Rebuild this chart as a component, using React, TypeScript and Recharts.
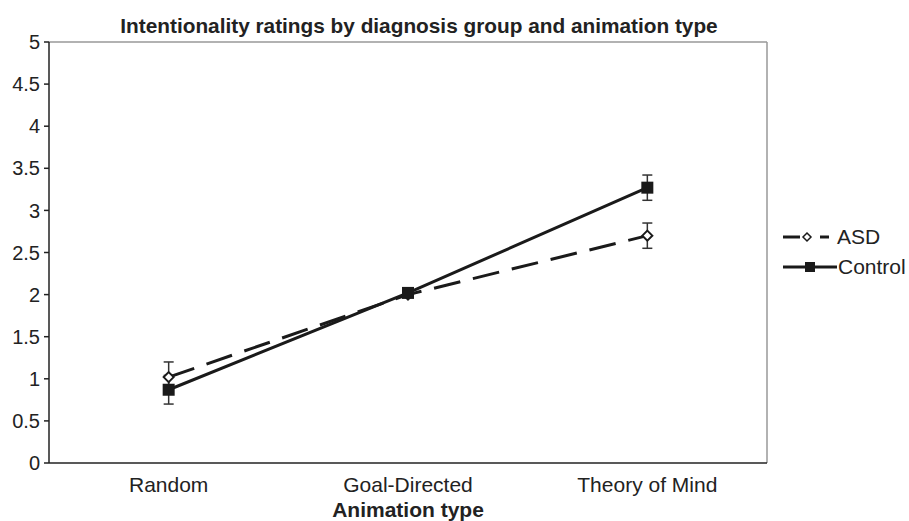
import React from 'react';
import { LineChart, Line, XAxis, YAxis, ErrorBar, ReferenceLine, Legend } from 'recharts';

const categories = ['Random', 'Goal-Directed', 'Theory of Mind'];
const asdValues = [1.02, 2.0, 2.7];
const asdErrors = [0.18, 0.02, 0.15];
const controlValues = [0.87, 2.02, 3.27];
const controlErrors = [0.17, 0.02, 0.15];
const yTicks = [0, 0.5, 1, 1.5, 2, 2.5, 3, 3.5, 4, 4.5, 5];

const data = categories.map((c, i) => ({
  idx: i,
  name: c,
  asd: asdValues[i],
  asdErr: asdErrors[i],
  control: controlValues[i],
  controlErr: controlErrors[i],
}));

const FONT = 'Liberation Sans, Arial, sans-serif';
const INK = '#222';

const SquareDot = (props: any) => {
  const { cx, cy } = props;
  if (cx == null || cy == null) return null;
  return <rect x={cx - 6} y={cy - 6} width={12} height={12} fill="#1a1a1a" />;
};

const DiamondDot = (props: any) => {
  const { cx, cy } = props;
  if (cx == null || cy == null) return null;
  return (
    <polygon
      points={`${cx},${cy - 5} ${cx + 5},${cy} ${cx},${cy + 5} ${cx - 5},${cy}`}
      fill="#fff"
      stroke="#1a1a1a"
      strokeWidth={2}
    />
  );
};

const renderLegend = () => (
  <div style={{ fontFamily: FONT, fontSize: 21, color: INK }}>
    <div style={{ display: 'flex', alignItems: 'center', height: 30 }}>
      <svg width={52} height={14}>
        <line x1={0} y1={7} x2={17} y2={7} stroke="#1a1a1a" strokeWidth={3} />
        <polygon points="24,3 28,7 24,11 20,7" fill="#fff" stroke="#1a1a1a" strokeWidth={1.5} />
        <line x1={37} y1={7} x2={46} y2={7} stroke="#1a1a1a" strokeWidth={3} />
      </svg>
      <span style={{ marginLeft: 2 }}>ASD</span>
    </div>
    <div style={{ display: 'flex', alignItems: 'center', height: 30 }}>
      <svg width={54} height={14}>
        <line x1={0} y1={7} x2={54} y2={7} stroke="#1a1a1a" strokeWidth={3} />
        <rect x={22} y={2} width={10} height={10} fill="#1a1a1a" />
      </svg>
      <span style={{ marginLeft: 1 }}>Control</span>
    </div>
  </div>
);

export default function App() {
  return (
    <div style={{ position: 'absolute', left: 0, top: 0, width: 909, height: 521, background: '#fff' }}>
      <div
        style={{
          position: 'absolute',
          left: 19,
          width: 800,
          top: 14,
          textAlign: 'center',
          fontFamily: FONT,
          fontWeight: 'bold',
          fontSize: 20.8,
          color: INK,
          whiteSpace: 'nowrap',
        }}
      >
        Intentionality ratings by diagnosis group and animation type
      </div>
      <LineChart
        width={909}
        height={521}
        data={data}
        margin={{ top: 42, right: 16, bottom: 0, left: 0 }}
      >
        <XAxis
          dataKey="idx"
          type="number"
          domain={[-0.5, 2.5]}
          ticks={[0, 1, 2]}
          tickFormatter={(v: number) => categories[v] ?? ''}
          tickLine={false}
          axisLine={{ stroke: INK, strokeWidth: 1.5 }}
          height={58}
          tick={{ fontFamily: FONT, fontSize: 21, fill: INK }}
          tickMargin={8}
          label={{
            value: 'Animation type',
            position: 'insideBottom',
            offset: 4,
            style: { fontFamily: FONT, fontSize: 21, fontWeight: 'bold', fill: INK },
          }}
        />
        <XAxis
          xAxisId="edges"
          dataKey="idx"
          type="number"
          domain={[-0.5, 2.5]}
          ticks={[-0.5, 0.5, 1.5, 2.5]}
          tick={false}
          tickSize={5}
          tickLine={{ stroke: INK, strokeWidth: 1.5 }}
          axisLine={false}
          height={0}
        />
        <YAxis
          type="number"
          domain={[0, 5]}
          ticks={yTicks}
          interval={0}
          width={49}
          tickSize={5}
          tickLine={{ stroke: INK, strokeWidth: 1.5 }}
          axisLine={{ stroke: INK, strokeWidth: 1.5 }}
          tick={{ fontFamily: FONT, fontSize: 20, fill: INK }}
          tickMargin={4}
        />
        <ReferenceLine y={5} stroke="#999" strokeWidth={1.5} />
        <ReferenceLine x={2.5} stroke="#999" strokeWidth={1.5} />
        <Legend
          layout="vertical"
          verticalAlign="top"
          align="right"
          content={renderLegend}
          wrapperStyle={{ left: 783, top: 222, width: 126 }}
        />
        <Line
          dataKey="asd"
          stroke="#1a1a1a"
          strokeWidth={3}
          strokeDasharray="27 13"
          dot={<DiamondDot />}
          activeDot={false}
          isAnimationActive={false}
        >
          <ErrorBar dataKey="asdErr" width={5} stroke="#333" strokeWidth={1.5} direction="y" />
        </Line>
        <Line
          dataKey="control"
          stroke="#1a1a1a"
          strokeWidth={3}
          dot={<SquareDot />}
          activeDot={false}
          isAnimationActive={false}
        >
          <ErrorBar dataKey="controlErr" width={5} stroke="#333" strokeWidth={1.5} direction="y" />
        </Line>
      </LineChart>
    </div>
  );
}
